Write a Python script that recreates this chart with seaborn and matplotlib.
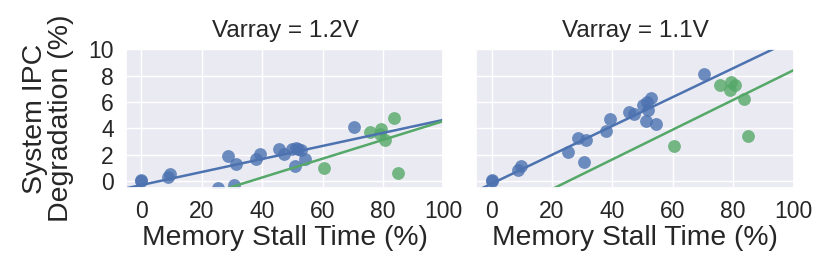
import matplotlib
matplotlib.use("Agg")
import matplotlib.pyplot as plt
import seaborn as sns

# Memory stall time (%) per workload, shared by both voltage panels
BLUE_X  = [0, 0, 8.8, 9.6, 25.3, 28.7, 30.5, 31.2, 37.9, 39.2, 45.5, 47.2,
           50.0, 51.0, 51.3, 51.7, 52.7, 54.3, 70.5]
GREEN_X = [60.3, 75.7, 78.9, 79.2, 80.7, 83.5, 85.0]

# IPC degradation (%) at Varray = 1.2V
BLUE_Y_12  = [0.0, 0.1, 0.3, 0.56, -0.55, 1.87, -0.3, 1.32, 1.7, 2.02, 2.4, 2.08,
              2.45, 1.14, 2.53, 2.42, 2.35, 1.7, 4.1]
GREEN_Y_12 = [0.98, 3.71, 3.59, 3.92, 3.08, 4.8, 0.6]

# IPC degradation (%) at Varray = 1.1V
BLUE_Y_11  = [0.0, 0.1, 0.81, 1.14, 2.2, 3.29, 1.44, 3.08, 3.79, 4.73, 5.23, 5.05,
              5.73, 4.52, 5.98, 5.36, 6.32, 4.3, 8.14]
GREEN_Y_11 = [2.63, 7.25, 6.87, 7.5, 7.25, 6.24, 3.44]

PANELS = [("Varray = 1.2V", BLUE_Y_12, GREEN_Y_12),
          ("Varray = 1.1V", BLUE_Y_11, GREEN_Y_11)]

BLUE, GREEN = "#4C72B0", "#55A868"

sns.set_theme(style="darkgrid")
plt.rcParams["font.family"] = ["Liberation Sans", "DejaVu Sans"]
plt.rcParams["text.color"] = ".15"
plt.rcParams["axes.labelcolor"] = ".15"
plt.rcParams["xtick.color"] = ".15"
plt.rcParams["ytick.color"] = ".15"

fig, axes = plt.subplots(1, 2, figsize=(8.31, 2.76), dpi=100, sharey=True)
fig.subplots_adjust(left=0.152, right=0.955, bottom=0.32, top=0.822, wspace=0.104)

for ax, (title, by, gy) in zip(axes, PANELS):
    ax.set_xlim(-5, 100)
    ax.set_ylim(-0.5, 10)
    for xs, ys, c in [(BLUE_X, by, BLUE), (GREEN_X, gy, GREEN)]:
        sns.regplot(x=xs, y=ys, ax=ax, ci=None, truncate=False, color=c,
                    scatter_kws={"s": 85, "alpha": 0.8, "linewidths": 0},
                    line_kws={"lw": 1.8})
    ax.set_xlim(-5, 100)
    ax.set_ylim(-0.5, 10)
    ax.set_xticks([0, 20, 40, 60, 80, 100])
    ax.set_yticks([0, 2, 4, 6, 8, 10])
    ax.tick_params(labelsize=16.5, pad=9, length=0)
    ax.set_title(title, fontsize=17.5, pad=9)
    ax.set_xlabel("Memory Stall Time (%)", fontsize=20.3, labelpad=1)

axes[0].set_ylabel("System IPC\nDegradation (%)", fontsize=20.5, labelpad=10,
                   linespacing=1.0)
axes[1].set_ylabel("")

fig.savefig("out.png", dpi=100)
